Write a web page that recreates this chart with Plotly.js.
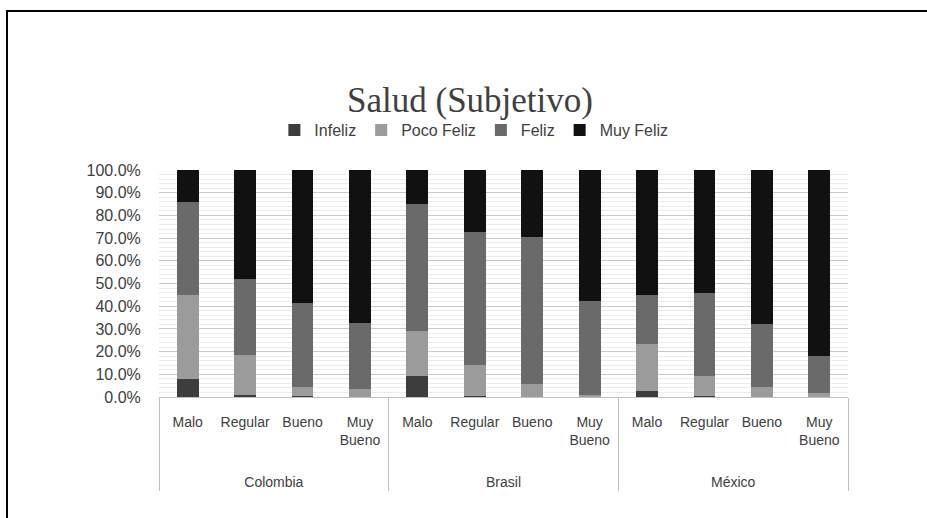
<!DOCTYPE html>
<html>
<head>
<meta charset="utf-8">
<script src="https://cdn.plot.ly/plotly-3.0.1.min.js"></script>
<style>
html,body{margin:0;padding:0;background:#fff;}
#frame{position:absolute;left:0;top:0;width:927px;height:518px;}
#chart{width:927px;height:518px;}
#bt{position:absolute;left:6px;top:10px;width:921px;height:2px;background:#000;}
#bl{position:absolute;left:6px;top:10px;width:2px;height:508px;background:#000;}
</style>
</head>
<body>
<div id="frame"><div id="chart"></div><div id="bt"></div><div id="bl"></div></div>
<script>
const countries = ['Colombia', 'Brasil', 'México'];
const levels = ['Malo', 'Regular', 'Bueno', 'Muy<br>Bueno'];
const seriesNames = ['Infeliz', 'Poco Feliz', 'Feliz', 'Muy Feliz'];
const colors = ['#3d3d3d', '#9b9b9b', '#6a6a6a', '#111111'];

// order: Colombia(Malo,Regular,Bueno,Muy Bueno), Brasil(...), México(...)
const infeliz   = [0.081, 0.007, 0.003, 0.002, 0.091, 0.006, 0.002, 0.001, 0.026, 0.003, 0.002, 0.001];
const pocoFeliz = [0.370, 0.180, 0.041, 0.035, 0.200, 0.134, 0.054, 0.008, 0.209, 0.088, 0.042, 0.017];
const feliz     = [0.408, 0.331, 0.368, 0.291, 0.559, 0.586, 0.650, 0.415, 0.216, 0.369, 0.277, 0.161];
const muyFeliz  = [0.141, 0.482, 0.588, 0.672, 0.150, 0.274, 0.294, 0.576, 0.549, 0.540, 0.679, 0.821];

const xCountry = [], xLevel = [];
countries.forEach(c => levels.forEach(l => { xCountry.push('<br><br>' + c); xLevel.push(l); }));

const values = [infeliz, pocoFeliz, feliz, muyFeliz];
const traces = values.map((v, i) => ({
  type: 'bar',
  name: seriesNames[i],
  x: [xCountry, xLevel],
  y: v,
  marker: {color: colors[i], line: {width: 0}},
  hoverinfo: 'skip'
}));

const font = 'Liberation Sans, Arial, sans-serif';
const layout = {
  width: 927, height: 518,
  paper_bgcolor: '#ffffff', plot_bgcolor: '#ffffff',
  barmode: 'stack',
  bargap: 0.62,
  margin: {l: 159, r: 79, t: 170, b: 121},
  title: {
    text: 'Salud (Subjetivo)',
    font: {family: 'Liberation Serif, DejaVu Serif, serif', size: 35, color: '#404040'},
    x: 0.507, xanchor: 'center', y: 0.807, yanchor: 'middle'
  },
  showlegend: true,
  legend: {
    orientation: 'h', x: 0.457, xanchor: 'center', y: 1.176, yanchor: 'middle',
    font: {family: font, size: 16, color: '#404040'},
    traceorder: 'normal', itemwidth: 30
  },
  xaxis: {
    type: 'multicategory',
    showgrid: false,
    tickangle: 0,
    tickfont: {family: font, size: 14, color: '#404040'},
    showdividers: true, dividercolor: '#bfbfbf', dividerwidth: 1,
    showline: true, linecolor: '#bfbfbf', linewidth: 1,
    ticks: '', ticklabelstandoff: 12
  },
  yaxis: {
    range: [0, 1],
    dtick: 0.1,
    tickformat: '.1%',
    tickfont: {family: font, size: 16, color: '#404040'},
    showgrid: true, gridcolor: '#c9c9c9', gridwidth: 1,
    zeroline: false, showline: false,
    minor: {dtick: 0.02, showgrid: true, gridcolor: '#ebebeb', gridwidth: 1},
    ticks: 'outside', tickcolor: 'rgba(0,0,0,0)', ticklen: 14
  }
};

Plotly.newPlot('chart', traces, layout, {staticPlot: true, displayModeBar: false});
</script>
</body>
</html>
